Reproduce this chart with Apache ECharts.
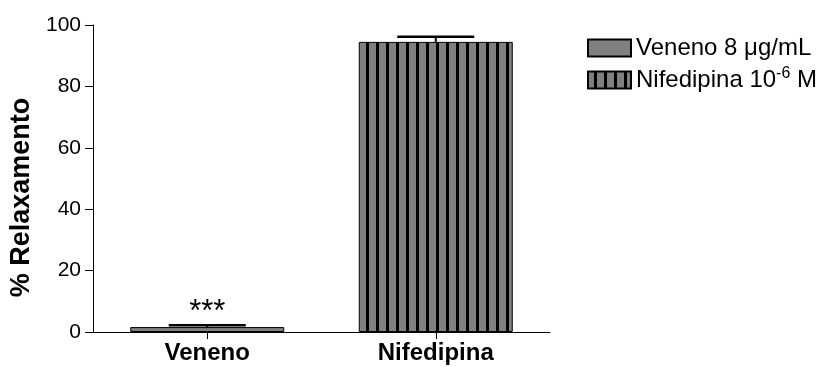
<!DOCTYPE html>
<html>
<head>
<meta charset="utf-8">
<script src="https://cdn.jsdelivr.net/npm/echarts@6/dist/echarts.min.js"></script>
<style>
  html, body { margin: 0; padding: 0; background: #fff; }
  #chart { width: 825px; height: 367px; }
</style>
</head>
<body>
<div id="chart"></div>
<script>
// Groups and measurements
const categories = ['Veneno', 'Nifedipina'];
const seriesNames = ['Veneno 8 μg/mL', 'Nifedipina 10-6 M'];
const means = [1.6, 94.5];
const sems = [0.6, 1.7];
const significance = ['***', ''];
const yTicks = [0, 20, 40, 60, 80, 100];

// Vertical stripe fill for the Nifedipina bar
function stripeCanvas() {
  const c = document.createElement('canvas');
  c.width = 10; c.height = 10;
  const ctx = c.getContext('2d');
  ctx.fillStyle = '#808080';
  ctx.fillRect(0, 0, 10, 10);
  ctx.fillStyle = '#000000';
  ctx.fillRect(6, 0, 3, 10);
  return c;
}
const stripes = { image: stripeCanvas(), repeat: 'repeat' };

const chart = echarts.init(document.getElementById('chart'), null, { renderer: 'canvas' });

const font = 'Arial, "Liberation Sans", sans-serif';

const barSeries = categories.map((cat, i) => ({
  name: seriesNames[i],
  type: 'bar',
  barWidth: 154,
  barGap: '-100%',
  data: categories.map((_, j) => (j === i ? means[i] : '-')),
  itemStyle: {
    color: i === 0 ? '#808080' : stripes,
    borderColor: '#000',
    borderWidth: 1
  },
  emphasis: { disabled: true },
  silent: true,
  z: 2
}));

const errorSeries = {
  type: 'custom',
  silent: true,
  z: 5,
  data: categories.map((_, i) => [i, means[i], sems[i]]),
  renderItem: function (params, api) {
    const x = api.value(0);
    const m = api.value(1);
    const e = api.value(2);
    const base = api.coord([x, m]);
    const top = api.coord([x, m + e]);
    const halfCap = 38.5;
    const children = [
      { type: 'line', shape: { x1: base[0], y1: base[1], x2: top[0], y2: top[1] }, style: { stroke: '#000', lineWidth: 2 } },
      { type: 'line', shape: { x1: top[0] - halfCap, y1: top[1], x2: top[0] + halfCap, y2: top[1] }, style: { stroke: '#000', lineWidth: 2.5 } }
    ];
    const mark = significance[params.dataIndex];
    if (mark) {
      children.push({
        type: 'text',
        style: { text: mark, x: top[0], y: top[1] - 13, align: 'center', verticalAlign: 'middle', fontSize: 31, fontFamily: font, fill: '#000' }
      });
    }
    return { type: 'group', children: children };
  }
};

chart.setOption({
  animation: false,
  backgroundColor: '#fff',
  grid: { left: 91, right: 275, top: 25, bottom: 35, containLabel: false },
  legend: {
    data: [
      { name: seriesNames[0], icon: 'rect' },
      { name: seriesNames[1], icon: 'rect' }
    ],
    orient: 'vertical',
    left: 582,
    top: 31,
    itemWidth: 43,
    itemHeight: 17,
    itemGap: 6,
    selectedMode: false,
    formatter: function (name) {
      if (name === seriesNames[1]) return 'Nifedipina 10{sup|-6} M';
      return name;
    },
    textStyle: {
      fontSize: 24,
      fontFamily: font,
      color: '#000',
      rich: {
        sup: { fontSize: 16, verticalAlign: 'top', padding: [0, 0, 12, 0], fontFamily: font, color: '#000' }
      }
    }
  },
  xAxis: {
    type: 'category',
    data: categories,
    axisLine: { lineStyle: { color: '#000', width: 1 } },
    axisTick: { show: true, alignWithLabel: true, length: 7, lineStyle: { color: '#000' } },
    axisLabel: { fontSize: 24, fontWeight: 'bold', fontFamily: font, color: '#000', margin: 9 },
    splitLine: { show: false }
  },
  yAxis: {
    type: 'value',
    min: yTicks[0],
    max: yTicks[yTicks.length - 1],
    interval: yTicks[1] - yTicks[0],
    name: '% Relaxamento',
    nameLocation: 'middle',
    nameGap: 58,
    nameRotate: 90,
    nameTextStyle: { fontSize: 27, fontWeight: 'bold', fontFamily: font, color: '#000', padding: [0, 38, 0, 0] },
    axisLine: { show: true, lineStyle: { color: '#000', width: 1 } },
    axisTick: { show: true, length: 8, lineStyle: { color: '#000' } },
    axisLabel: { fontSize: 21, fontFamily: font, color: '#000', margin: 12 },
    splitLine: { show: false }
  },
  series: barSeries.concat([errorSeries])
});
</script>
</body>
</html>
